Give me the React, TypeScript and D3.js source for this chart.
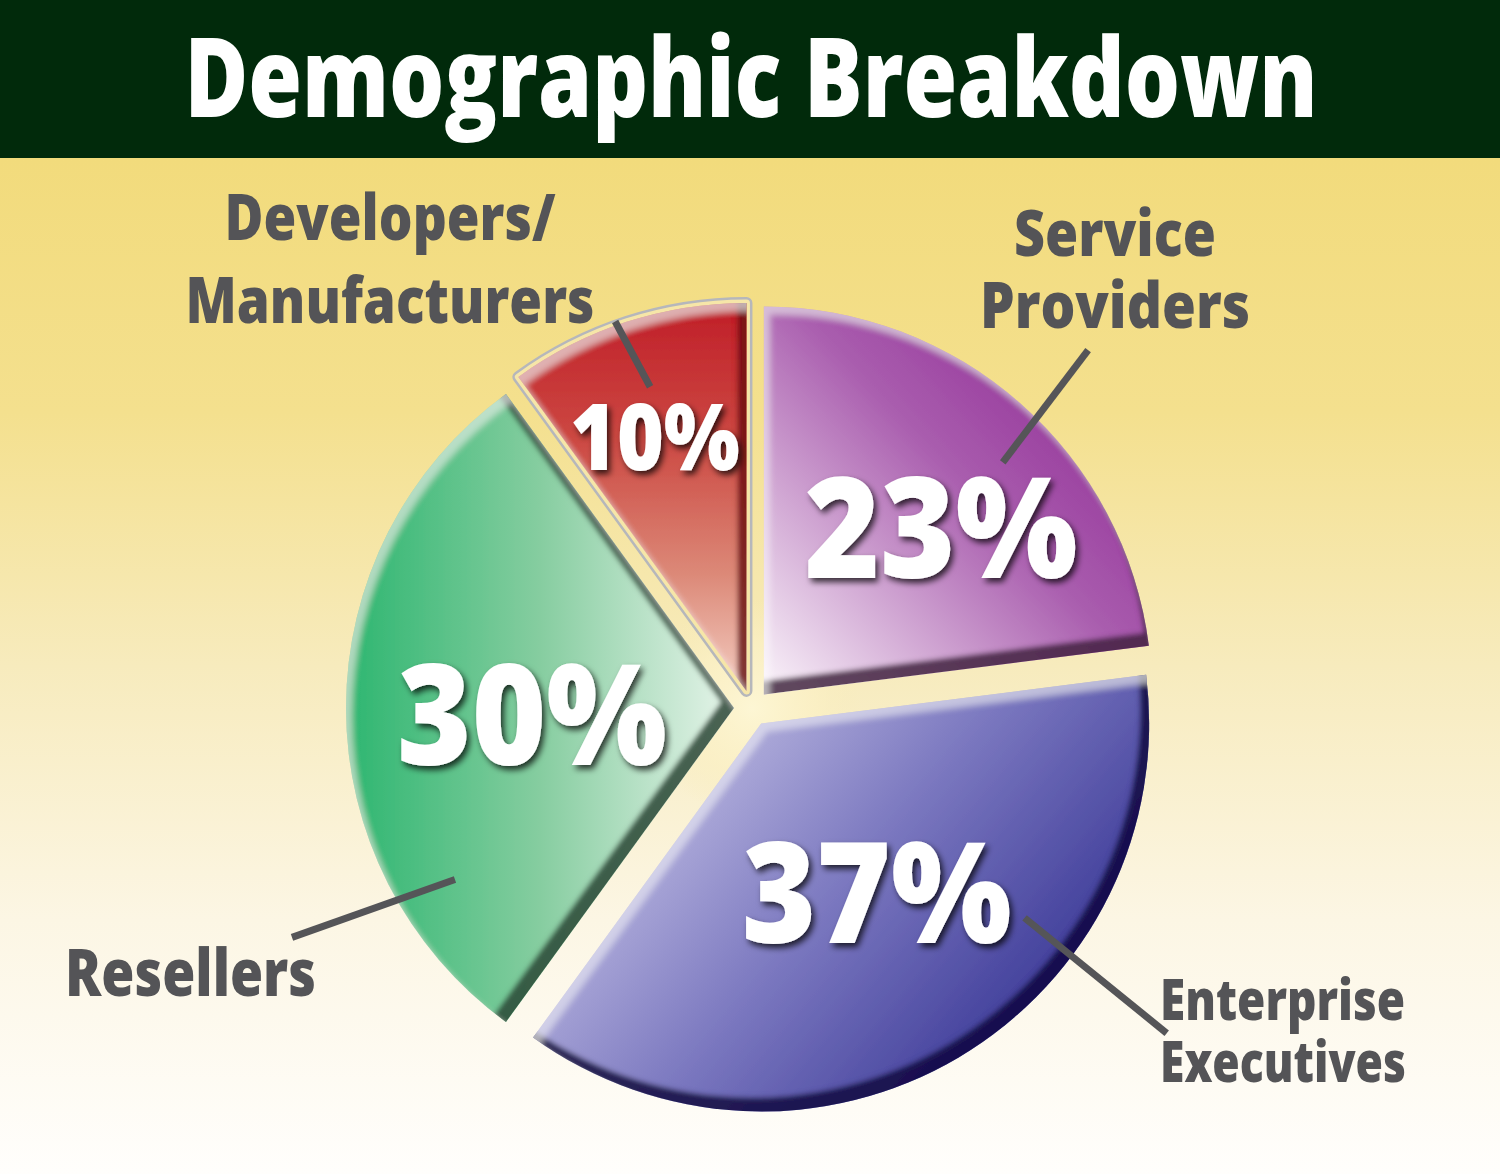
import React from "react";
import * as d3 from "d3";

// ---- data ----
const categories = ["Service Providers", "Enterprise Executives", "Resellers", "Developers/Manufacturers"];
const shares = [23, 37, 30, 10];
const labelLines = [["Service", "Providers"], ["Enterprise", "Executives"], ["Resellers"], ["Developers/", "Manufacturers"]];
const title = "Demographic Breakdown";

// ---- styling / layout (not data) ----
const W = 1500, H = 1174;
const CX = 752, CY = 708, R = 388, EXPLODE = 18;
const gradStops = [
  [["0", "#8a1f8f"], ["0.45", "#a95dae"], ["1", "#f7eef7"]],
  [["0", "#d8d5ef"], ["0.5", "#7a77bf"], ["1", "#27258a"]],
  [["0", "#2db670"], ["0.5", "#86cda0"], ["1", "#e6f4ea"]],
  [["0", "#c01e28"], ["0.35", "#cc4842"], ["0.7", "#dc8978"], ["1", "#f3cdc2"]],
];
const gradDir = [
  { x1: 1, y1: 0.1, x2: 0.05, y2: 1 },
  { x1: 0, y1: 0.2, x2: 1, y2: 0.8 },
  { x1: 0, y1: 0.5, x2: 1, y2: 0.5 },
  { x1: 0.5, y1: 0, x2: 0.5, y2: 1 },
];
const darkEdge = ["#4a2748", "#140d48", "#2f4f3c", "#761317"];
const darkOffset = [
  [-5, -13],
  [-9, -14],
  [-13, -6],
  [-9, -4],
];
const pctLayout = [
  { ang: 46.4, r: 261, size: 140, len: 273 },
  { ang: 146, r: 223, size: 140, len: 270 },
  { ang: 268.4, r: 220, size: 140, len: 270 },
  { ang: -19.7, r: 288, size: 92, len: 170 },
];
const leaderLayout = [
  { a1: 45.6, r1: 351, a2: 43.2, r2: 491 },
  { a1: 127.6, r1: 344, a2: 128.1, r2: 527 },
  { a1: 240, r1: 343, a2: 243.5, r2: 514 },
  { a1: -17.6, r1: 337, a2: -19.5, r2: 410 },
];
const textLayout = [
  { x: 1115, ys: [256, 328], anchor: "middle", size: 64, lens: [202, 270] },
  { x: 1160, ys: [1020, 1082], anchor: "start", size: 56, lens: [245, 246] },
  { x: 65, ys: [996], anchor: "start", size: 66, lens: [251] },
  { x: 390, ys: [240, 323], anchor: "middle", size: 63, lens: [331, 409] },
];
const FONT = "'Open Sans', 'DejaVu Sans', sans-serif";

function polar(angDeg: number, r: number): [number, number] {
  const a = (angDeg * Math.PI) / 180;
  return [CX + Math.sin(a) * r, CY - Math.cos(a) * r];
}

export default function App() {
  const pie = d3.pie<number>().sort(null).value((d) => d)(shares);
  const arc = d3.arc<d3.PieArcDatum<number>>().innerRadius(0).outerRadius(R);

  return (
    <svg width={W} height={H} style={{ position: "absolute", left: 0, top: 0, display: "block" }}>
      <defs>
        <linearGradient id="bg" x1="0" y1="158" x2="0" y2={H} gradientUnits="userSpaceOnUse">
          <stop offset="0" stopColor="#f2db7c" />
          <stop offset="0.25" stopColor="#f4e08e" />
          <stop offset="0.5" stopColor="#f7ebbd" />
          <stop offset="0.75" stopColor="#fcf6e4" />
          <stop offset="1" stopColor="#fffefc" />
        </linearGradient>
        <radialGradient id="glow">
          <stop offset="0" stopColor="#fdf6d4" stopOpacity="1" />
          <stop offset="0.6" stopColor="#fbf0c4" stopOpacity="0.7" />
          <stop offset="1" stopColor="#f8ecbb" stopOpacity="0" />
        </radialGradient>
        {gradStops.map((stops, i) => (
          <linearGradient key={i} id={`g${i}`} {...gradDir[i]}>
            {stops.map(([o, c], j) => (
              <stop key={j} offset={o} stopColor={c} />
            ))}
          </linearGradient>
        ))}
        {darkEdge.map((c, i) => (
          <filter key={i} id={`bevel${i}`} x="-5%" y="-5%" width="110%" height="110%">
            <feOffset in="SourceAlpha" dx={darkOffset[i][0]} dy={darkOffset[i][1]} result="off" />
            <feGaussianBlur in="off" stdDeviation="2.5" result="offb" />
            <feComposite in="SourceAlpha" in2="offb" operator="out" result="band" />
            <feFlood floodColor={c} floodOpacity="0.95" />
            <feComposite in2="band" operator="in" result="shadow" />
            <feOffset in="SourceAlpha" dx="6" dy="8" result="off2" />
            <feGaussianBlur in="off2" stdDeviation="3" result="off2b" />
            <feComposite in="SourceAlpha" in2="off2b" operator="out" result="band2" />
            <feFlood floodColor="#ffffff" floodOpacity="0.42" />
            <feComposite in2="band2" operator="in" result="hl" />
            <feMerge>
              <feMergeNode in="SourceGraphic" />
              <feMergeNode in="shadow" />
              <feMergeNode in="hl" />
            </feMerge>
          </filter>
        ))}
        <filter id="txtShadow" x="-20%" y="-20%" width="140%" height="140%">
          <feDropShadow dx="3" dy="4" stdDeviation="3" floodColor="#000" floodOpacity="0.75" />
        </filter>
      </defs>

      <rect x={0} y={0} width={W} height={H} fill="url(#bg)" />
      <rect x={0} y={0} width={W} height={158} fill="#012a0b" />
      <text
        x={751}
        y={117}
        textAnchor="middle"
        fill="#ffffff"
        fontFamily={FONT}
        fontWeight={800}
        fontSize={110}
        textLength={1133}
        lengthAdjust="spacingAndGlyphs"
      >
        {title}
      </text>

      <circle cx={CX} cy={CY} r={110} fill="url(#glow)" />

      {pie.map((p, i) => {
        const mid = (p.startAngle + p.endAngle) / 2;
        const dx = Math.sin(mid) * EXPLODE;
        const dy = -Math.cos(mid) * EXPLODE;
        return (
          <g key={categories[i]} transform={`translate(${CX + dx},${CY + dy})`}>
            {i === 3 && (
              <>
                <path d={arc(p) || ""} fill="none" stroke="#b6b7bb" strokeWidth={12} strokeLinejoin="round" />
                <path d={arc(p) || ""} fill="none" stroke="#f6e6a8" strokeWidth={7} strokeLinejoin="round" />
              </>
            )}
            <path d={arc(p) || ""} fill={`url(#g${i})`} filter={`url(#bevel${i})`} />
          </g>
        );
      })}

      {leaderLayout.map((l, i) => {
        const [x1, y1] = polar(l.a1, l.r1);
        const [x2, y2] = polar(l.a2, l.r2);
        return <line key={i} x1={x1} y1={y1} x2={x2} y2={y2} stroke="#555558" strokeWidth={7} />;
      })}

      {pie.map((p, i) => {
        const L = pctLayout[i];
        const [x, y] = polar(L.ang, L.r);
        return (
          <text
            key={i}
            x={x}
            y={y}
            dy="0.36em"
            textAnchor="middle"
            fill="#ffffff"
            fontFamily={FONT}
            fontWeight={800}
            fontSize={L.size}
            textLength={L.len}
            lengthAdjust="spacingAndGlyphs"
            filter="url(#txtShadow)"
          >
            {`${p.data}%`}
          </text>
        );
      })}

      {labelLines.map((lines, i) => {
        const T = textLayout[i];
        return (
          <g key={i}>
            {lines.map((s, j) => (
              <text
                key={j}
                x={T.x}
                y={T.ys[j]}
                textAnchor={T.anchor}
                fill="#545457"
                fontFamily={FONT}
                fontWeight={800}
                fontSize={T.size}
                textLength={T.lens[j]}
                lengthAdjust="spacingAndGlyphs"
              >
                {s}
              </text>
            ))}
          </g>
        );
      })}
    </svg>
  );
}
